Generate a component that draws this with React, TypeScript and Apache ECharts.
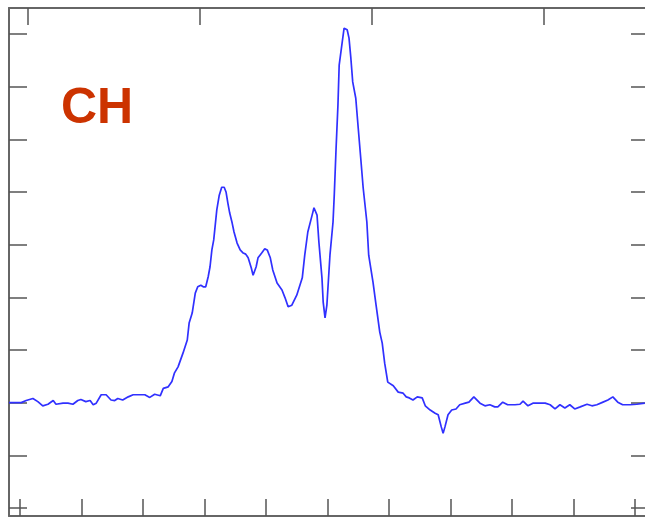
import React, { useEffect, useRef } from "react";
import * as echarts from "echarts";

// Spectrum trace: [position, intensity] in axis units
const spectrum: [number, number][] = [
  [-0.18, 2.0], [0.02, 2.0], [0.1, 2.04], [0.21, 2.08], [0.29, 2.02], [0.37, 1.94], [0.455, 1.97],
  [0.54, 2.04], [0.585, 1.97], [0.7, 1.99], [0.78, 1.99], [0.86, 1.97], [0.94, 2.04], [0.99, 2.06],
  [1.07, 2.02], [1.14, 2.04], [1.19, 1.96], [1.24, 1.99], [1.32, 2.15], [1.4, 2.15], [1.48, 2.05],
  [1.54, 2.04], [1.59, 2.08], [1.67, 2.05], [1.76, 2.11], [1.84, 2.15], [1.95, 2.15], [2.03, 2.15],
  [2.11, 2.1], [2.19, 2.16], [2.28, 2.13], [2.33, 2.27], [2.41, 2.3], [2.47, 2.4], [2.51, 2.56],
  [2.57, 2.68], [2.65, 2.94], [2.72, 3.19], [2.75, 3.51], [2.8, 3.7], [2.85, 4.08], [2.89, 4.2],
  [2.94, 4.23], [2.98, 4.2], [3.02, 4.2], [3.06, 4.39], [3.09, 4.58], [3.12, 4.9], [3.15, 5.09],
  [3.2, 5.66], [3.24, 5.94], [3.28, 6.09], [3.32, 6.09], [3.35, 6.0], [3.38, 5.79], [3.41, 5.6],
  [3.45, 5.41], [3.48, 5.24], [3.53, 5.03], [3.58, 4.9], [3.63, 4.84], [3.67, 4.82], [3.71, 4.75],
  [3.76, 4.56], [3.79, 4.42], [3.84, 4.58], [3.87, 4.75], [3.93, 4.84], [3.98, 4.92], [4.02, 4.9],
  [4.07, 4.75], [4.11, 4.52], [4.18, 4.27], [4.26, 4.14], [4.31, 3.99], [4.36, 3.82], [4.42, 3.85],
  [4.5, 4.04], [4.59, 4.37], [4.63, 4.8], [4.68, 5.24], [4.75, 5.56], [4.78, 5.7], [4.83, 5.56],
  [4.86, 5.05], [4.91, 4.37], [4.93, 3.91], [4.96, 3.61], [4.99, 3.85], [5.04, 4.8], [5.09, 5.43],
  [5.11, 5.94], [5.14, 6.84], [5.17, 7.65], [5.19, 8.41], [5.24, 8.85], [5.27, 9.11], [5.32, 9.08],
  [5.35, 8.92], [5.38, 8.54], [5.41, 8.09], [5.46, 7.78], [5.5, 7.21], [5.54, 6.65], [5.58, 6.08],
  [5.64, 5.43], [5.67, 4.8], [5.74, 4.29], [5.79, 3.85], [5.85, 3.34], [5.89, 3.13], [5.93, 2.75],
  [5.98, 2.39], [6.07, 2.32], [6.15, 2.2], [6.23, 2.18], [6.28, 2.11], [6.33, 2.09], [6.39, 2.05],
  [6.46, 2.11], [6.54, 2.09], [6.59, 1.94], [6.67, 1.86], [6.75, 1.8], [6.8, 1.77], [6.85, 1.54],
  [6.88, 1.42], [6.91, 1.54], [6.96, 1.77], [7.02, 1.86], [7.09, 1.88], [7.15, 1.96], [7.24, 1.99],
  [7.3, 2.01], [7.38, 2.11], [7.48, 1.99], [7.56, 1.94], [7.64, 1.96], [7.72, 1.92], [7.77, 1.92],
  [7.85, 2.01], [7.93, 1.96], [8.05, 1.96], [8.13, 1.97], [8.18, 2.03], [8.26, 1.94], [8.34, 1.99],
  [8.46, 1.99], [8.54, 1.99], [8.62, 1.96], [8.7, 1.88], [8.78, 1.96], [8.86, 1.9], [8.94, 1.96],
  [9.02, 1.88], [9.11, 1.92], [9.22, 1.97], [9.3, 1.94], [9.38, 1.96], [9.48, 2.01], [9.56, 2.05],
  [9.64, 2.11], [9.72, 2.01], [9.8, 1.96], [9.92, 1.96], [10.03, 1.97], [10.16, 1.99],
];

const bottomTicks = [0, 1, 2, 3, 4, 5, 6, 7, 8, 9, 10];
const topTicks = [0, 1, 2, 3];
const sideTicks = [0, 1, 2, 3, 4, 5, 6, 7, 8, 9];
const label = "CH";

const frameColor = "#666666";
const tickColor = "#555555";

export default function App() {
  const ref = useRef<HTMLDivElement>(null);

  useEffect(() => {
    if (!ref.current) return;
    const chart = echarts.init(ref.current, null, { renderer: "svg" });

    const hiddenLabel = { show: false };
    const noSplit = { show: false };

    chart.setOption({
      animation: false,
      backgroundColor: "#ffffff",
      grid: { left: 9, right: 0, top: 8, bottom: 2, containLabel: false },
      xAxis: [
        {
          type: "value",
          position: "bottom",
          min: -0.179,
          max: 10.163,
          axisLine: { show: true, onZero: false, lineStyle: { color: frameColor, width: 2 } },
          axisTick: {
            show: true,
            inside: true,
            length: 17,
            customValues: bottomTicks,
            lineStyle: { color: tickColor, width: 1.5 },
          },
          axisLabel: hiddenLabel,
          splitLine: noSplit,
        },
        {
          type: "value",
          position: "top",
          min: -0.1105,
          max: 3.587,
          axisLine: { show: true, onZero: false, lineStyle: { color: frameColor, width: 2 } },
          axisTick: {
            show: true,
            inside: true,
            length: 17,
            customValues: topTicks,
            lineStyle: { color: tickColor, width: 1.5 },
          },
          axisLabel: hiddenLabel,
          splitLine: noSplit,
        },
      ],
      yAxis: [
        {
          type: "value",
          position: "left",
          min: -0.152,
          max: 9.493,
          axisLine: { show: true, onZero: false, lineStyle: { color: frameColor, width: 2 } },
          axisTick: {
            show: true,
            inside: true,
            length: 18,
            customValues: sideTicks,
            lineStyle: { color: tickColor, width: 1.5 },
          },
          axisLabel: hiddenLabel,
          splitLine: noSplit,
        },
        {
          type: "value",
          position: "right",
          min: -0.152,
          max: 9.493,
          axisLine: { show: false, onZero: false },
          axisTick: {
            show: true,
            inside: true,
            length: 14,
            customValues: sideTicks,
            lineStyle: { color: tickColor, width: 1.5 },
          },
          axisLabel: hiddenLabel,
          splitLine: noSplit,
        },
      ],
      graphic: [
        {
          type: "text",
          left: 61,
          top: 81,
          style: {
            text: label,
            font: 'bold 50px "Liberation Sans", Arial, sans-serif',
            fill: "#cc3300",
          },
        },
      ],
      series: [
        {
          type: "line",
          xAxisIndex: 0,
          yAxisIndex: 0,
          data: spectrum,
          showSymbol: false,
          smooth: false,
          lineStyle: { color: "#3030ff", width: 1.7 },
          clip: true,
        },
      ],
    });

    return () => chart.dispose();
  }, []);

  return (
    <div
      ref={ref}
      style={{ position: "fixed", left: 0, top: 0, width: 645, height: 518 }}
    />
  );
}
